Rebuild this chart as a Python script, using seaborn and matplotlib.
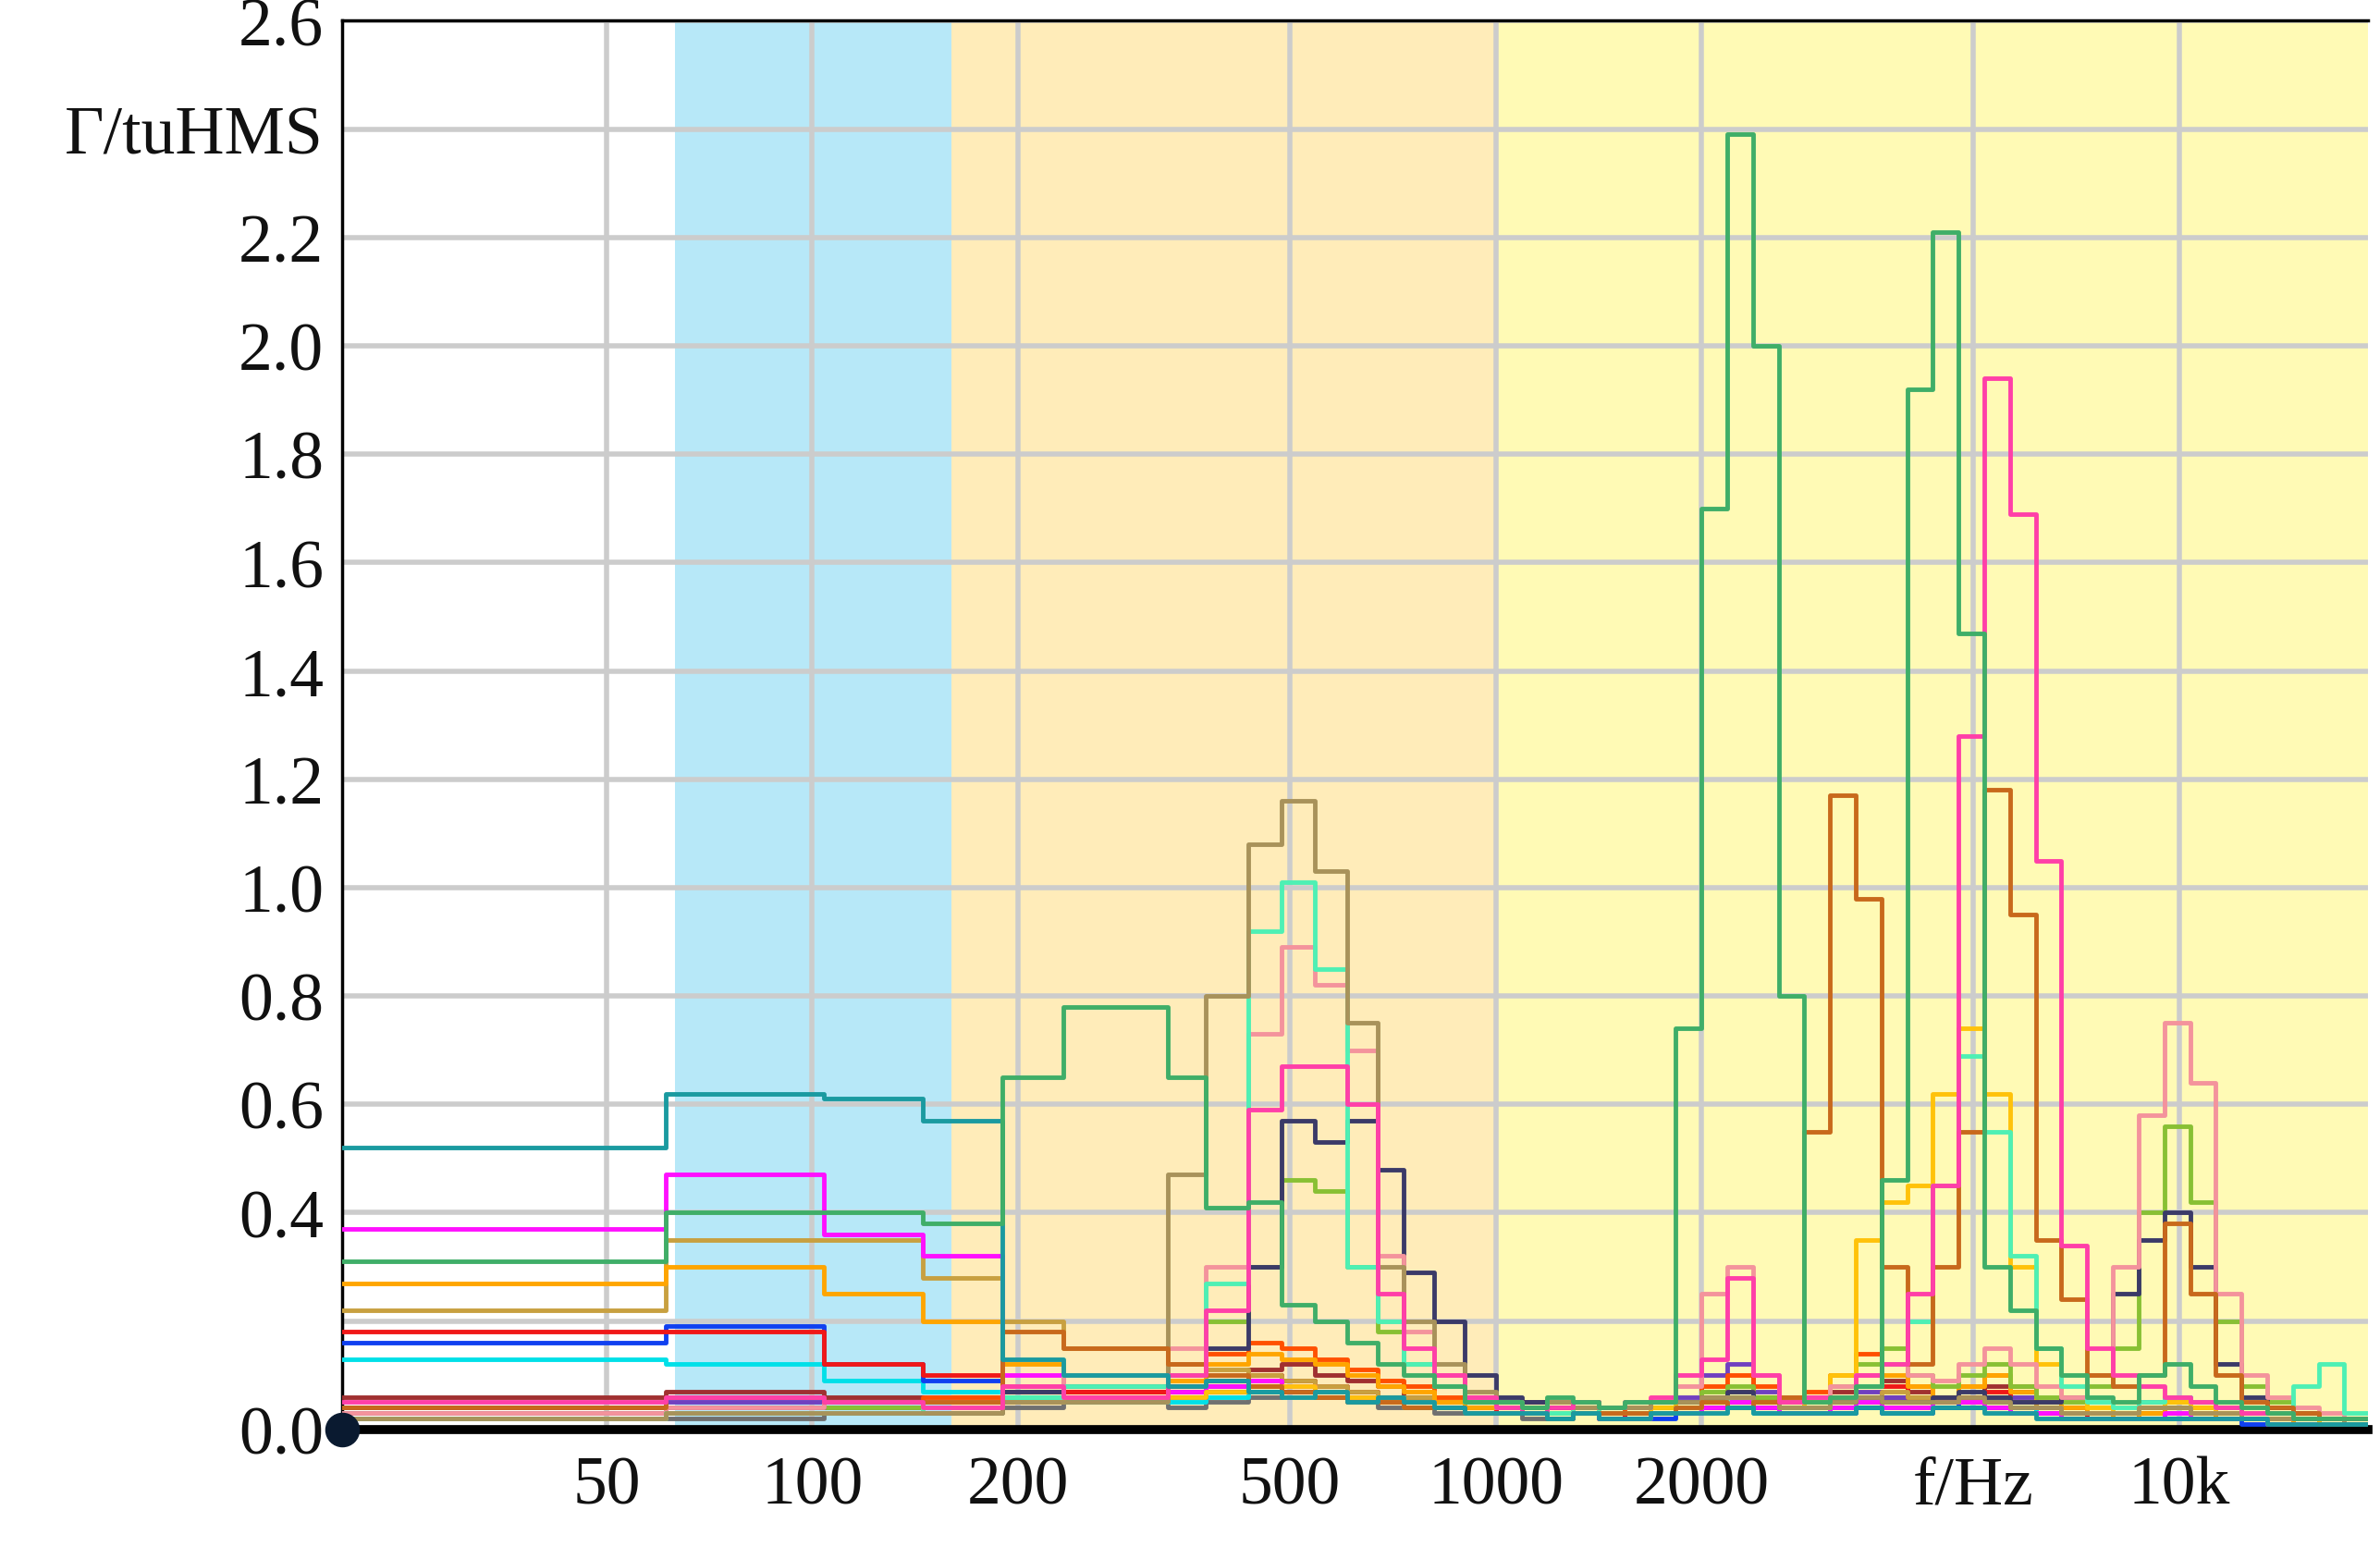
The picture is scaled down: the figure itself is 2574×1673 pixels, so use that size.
import numpy as np
import pandas as pd
import matplotlib
matplotlib.use("Agg")
import matplotlib.pyplot as plt
import seaborn as sns

# band edges in Hz
edges = [20, 61, 104, 145, 190, 233, 331, 376, 434, 486, 544, 606, 672, 733, 812, 900, 1000,
         1091, 1189, 1297, 1414, 1542, 1682, 1834, 2000, 2181, 2378, 2594, 2828, 3084, 3364,
         3668, 4000, 4362, 4757, 5187, 5657, 6169, 6727, 7336, 8000, 8724, 9514, 10375, 11314,
         12338, 13454, 14672, 16000, 17448, 19027]

s_black = [0.0]*50
s_gray = [0.02,0.02,0.03,0.03,0.04,0.05,0.04,0.05,0.06,0.07, 0.06,0.05,0.04,0.04,0.03,0.03,0.03,0.02,0.03,0.03,
          0.02,0.02,0.03,0.03,0.04,0.05,0.04,0.03,0.03,0.04, 0.05,0.06,0.05,0.04,0.04,0.05,0.04,0.03,0.03,0.02,
          0.02,0.03,0.04,0.03,0.02,0.02,0.02,0.01,0.01,0.01]
s_purple = [0.04,0.05,0.04,0.04,0.05,0.06,0.07,0.08,0.10,0.09, 0.08,0.07,0.06,0.05,0.04,0.04,0.03,0.03,0.04,0.05,
            0.04,0.04,0.05,0.06,0.10,0.12,0.07,0.05,0.05,0.06, 0.07,0.06,0.05,0.04,0.04,0.05,0.06,0.04,0.03,0.03,
            0.03,0.05,0.06,0.05,0.03,0.02,0.02,0.02,0.01,0.01]
s_darkred = [0.06,0.07,0.06,0.05,0.06,0.07,0.08,0.09,0.11,0.12, 0.10,0.09,0.08,0.06,0.05,0.04,0.04,0.05,0.04,0.04,
             0.03,0.03,0.04,0.05,0.06,0.07,0.06,0.04,0.05,0.07, 0.08,0.09,0.07,0.05,0.06,0.08,0.07,0.05,0.04,0.03,
             0.03,0.04,0.05,0.04,0.03,0.02,0.02,0.02,0.01,0.01]
s_orangered = [0.03,0.04,0.05,0.06,0.08,0.10,0.12,0.14,0.16,0.15, 0.13,0.11,0.09,0.08,0.06,0.05,0.04,0.04,0.05,0.04,
               0.03,0.04,0.04,0.05,0.08,0.10,0.08,0.06,0.07,0.10, 0.14,0.12,0.08,0.06,0.08,0.10,0.08,0.05,0.04,0.03,
               0.02,0.03,0.04,0.03,0.02,0.02,0.02,0.01,0.01,0.01]
s_cyan = [0.13,0.12,0.09,0.07,0.06,0.05,0.05,0.06,0.07,0.08, 0.07,0.06,0.05,0.04,0.04,0.03,0.03,0.03,0.03,0.03,
          0.03,0.02,0.03,0.03,0.04,0.04,0.03,0.03,0.03,0.04, 0.05,0.04,0.04,0.05,0.06,0.05,0.04,0.03,0.03,0.02,
          0.02,0.02,0.03,0.03,0.02,0.02,0.02,0.02,0.02,0.01]
s_blue = [0.16,0.19,0.12,0.09,0.07,0.06,0.06,0.07,0.08,0.07, 0.07,0.06,0.05,0.05,0.04,0.03,0.03,0.03,0.02,0.03,
          0.03,0.02,0.02,0.03,0.04,0.06,0.04,0.03,0.03,0.03, 0.04,0.03,0.03,0.04,0.05,0.04,0.03,0.03,0.02,0.02,
          0.02,0.02,0.02,0.02,0.02,0.01,0.01,0.01,0.01,0.01]
s_red = [0.18,0.18,0.12,0.10,0.08,0.07,0.08,0.09,0.10,0.09, 0.08,0.07,0.06,0.05,0.04,0.04,0.03,0.03,0.03,0.03,
         0.02,0.03,0.03,0.04,0.05,0.06,0.05,0.04,0.04,0.06, 0.10,0.08,0.06,0.05,0.06,0.07,0.05,0.04,0.03,0.02,
         0.02,0.03,0.04,0.03,0.02,0.02,0.01,0.01,0.01,0.01]
s_gold = [0.22,0.35,0.35,0.28,0.20,0.15,0.12,0.11,0.10,0.09, 0.08,0.07,0.06,0.06,0.05,0.04,0.04,0.04,0.03,0.04,
          0.03,0.03,0.04,0.05,0.06,0.07,0.05,0.04,0.04,0.05, 0.06,0.07,0.06,0.05,0.05,0.06,0.05,0.04,0.03,0.03,
          0.03,0.04,0.05,0.04,0.03,0.02,0.02,0.02,0.02,0.01]
s_orange = [0.27,0.30,0.25,0.20,0.12,0.10,0.09,0.12,0.14,0.13, 0.12,0.10,0.08,0.07,0.05,0.04,0.04,0.03,0.03,0.04,
            0.03,0.03,0.03,0.04,0.05,0.06,0.05,0.04,0.05,0.06, 0.08,0.10,0.08,0.06,0.08,0.10,0.07,0.05,0.04,0.03,
            0.02,0.03,0.04,0.03,0.02,0.02,0.02,0.01,0.01,0.01]
s_magenta = [0.37,0.47,0.36,0.32,0.10,0.08,0.07,0.08,0.09,0.08, 0.07,0.06,0.05,0.05,0.04,0.03,0.03,0.03,0.03,0.03,
             0.02,0.02,0.03,0.03,0.04,0.05,0.04,0.03,0.03,0.04, 0.05,0.04,0.04,0.05,0.05,0.04,0.03,0.03,0.02,0.02,
             0.02,0.02,0.03,0.02,0.02,0.02,0.01,0.01,0.01,0.01]
s_lime = [0.03,0.04,0.04,0.05,0.07,0.08,0.10,0.20,0.30,0.46, 0.44,0.30,0.18,0.12,0.08,0.05,0.04,0.04,0.03,0.04,
          0.03,0.03,0.04,0.05,0.07,0.08,0.06,0.05,0.06,0.08, 0.12,0.15,0.10,0.08,0.10,0.12,0.08,0.06,0.05,0.08,
          0.15,0.40,0.56,0.42,0.20,0.08,0.05,0.03,0.02,0.02]
s_yellow = [0.02,0.03,0.03,0.04,0.05,0.06,0.06,0.07,0.08,0.08, 0.07,0.06,0.05,0.05,0.04,0.03,0.03,0.03,0.03,0.03,
            0.03,0.03,0.04,0.05,0.06,0.07,0.05,0.04,0.05,0.10, 0.35,0.42,0.45,0.62,0.74,0.62,0.30,0.12,0.06,0.04,
            0.03,0.04,0.05,0.04,0.03,0.02,0.02,0.02,0.01,0.01]
s_navy = [0.03,0.04,0.05,0.05,0.07,0.08,0.10,0.15,0.30,0.57, 0.53,0.57,0.48,0.29,0.20,0.10,0.06,0.05,0.04,0.05,
          0.04,0.04,0.05,0.05,0.06,0.07,0.05,0.04,0.04,0.05, 0.06,0.05,0.05,0.06,0.07,0.06,0.05,0.05,0.06,0.10,
          0.25,0.35,0.40,0.30,0.12,0.06,0.04,0.03,0.02,0.02]
s_lightpink = [0.03,0.04,0.05,0.05,0.08,0.10,0.15,0.30,0.73,0.89, 0.82,0.70,0.32,0.18,0.10,0.06,0.05,0.04,0.05,0.05,
               0.04,0.04,0.05,0.08,0.25,0.30,0.10,0.06,0.06,0.08, 0.10,0.12,0.10,0.09,0.12,0.15,0.12,0.08,0.06,0.10,
               0.30,0.58,0.75,0.64,0.25,0.10,0.06,0.04,0.03,0.02]
s_aqua = [0.02,0.03,0.03,0.04,0.06,0.08,0.10,0.27,0.92,1.01, 0.85,0.30,0.20,0.12,0.08,0.05,0.04,0.04,0.03,0.04,
          0.03,0.03,0.03,0.04,0.05,0.06,0.05,0.04,0.04,0.06, 0.08,0.12,0.20,0.45,0.69,0.55,0.32,0.15,0.08,0.05,
          0.04,0.05,0.06,0.05,0.04,0.03,0.03,0.08,0.12,0.03]
s_tan = [0.02,0.03,0.03,0.03,0.05,0.05,0.47,0.80,1.08,1.16, 1.03,0.75,0.30,0.20,0.12,0.07,0.05,0.04,0.05,0.04,
         0.04,0.04,0.05,0.05,0.06,0.06,0.05,0.04,0.04,0.05, 0.06,0.05,0.05,0.05,0.06,0.05,0.04,0.04,0.03,0.03,
         0.03,0.04,0.04,0.03,0.03,0.02,0.02,0.02,0.02,0.01]
s_brown = [0.04,0.06,0.05,0.05,0.18,0.15,0.12,0.10,0.08,0.07, 0.06,0.05,0.05,0.04,0.04,0.03,0.03,0.03,0.02,0.03,
           0.03,0.03,0.03,0.04,0.05,0.04,0.05,0.06,0.55,1.17, 0.98,0.30,0.12,0.30,0.55,1.18,0.95,0.35,0.24,0.10,
           0.08,0.10,0.38,0.25,0.10,0.05,0.04,0.03,0.02,0.02]
s_hotpink = [0.05,0.06,0.05,0.04,0.08,0.06,0.10,0.22,0.59,0.67, 0.67,0.60,0.25,0.15,0.10,0.06,0.04,0.03,0.04,0.05,
             0.04,0.05,0.06,0.10,0.13,0.28,0.10,0.05,0.06,0.06, 0.10,0.12,0.25,0.45,1.28,1.94,1.69,1.05,0.34,0.15,
             0.10,0.08,0.06,0.05,0.04,0.03,0.03,0.02,0.02,0.02]
s_teal = [0.52,0.62,0.61,0.57,0.13,0.10,0.08,0.09,0.07,0.06, 0.07,0.05,0.06,0.05,0.04,0.03,0.03,0.03,0.02,0.03,
          0.02,0.02,0.03,0.03,0.03,0.04,0.03,0.03,0.03,0.03, 0.04,0.03,0.03,0.04,0.04,0.03,0.03,0.02,0.02,0.02,
          0.02,0.02,0.02,0.02,0.02,0.02,0.01,0.01,0.01,0.01]
s_green = [0.31,0.40,0.40,0.38,0.65,0.78,0.65,0.41,0.42,0.23, 0.20,0.16,0.12,0.10,0.08,0.05,0.05,0.04,0.06,0.05,
           0.04,0.05,0.05,0.74,1.70,2.39,2.00,0.80,0.05,0.06, 0.08,0.46,1.92,2.21,1.47,0.30,0.22,0.15,0.10,0.06,
           0.05,0.10,0.12,0.08,0.05,0.04,0.03,0.02,0.02,0.02]

series = {
    "gray": (s_gray, "#707070"), "purple": (s_purple, "#7040c0"), "darkred": (s_darkred, "#a03030"),
    "orangered": (s_orangered, "#ff5000"), "cyan": (s_cyan, "#00e0e8"), "blue": (s_blue, "#1040f0"),
    "red": (s_red, "#f01818"), "gold": (s_gold, "#c8a040"), "orange": (s_orange, "#ffa500"),
    "magenta": (s_magenta, "#ff10ff"), "lime": (s_lime, "#88c034"), "yellow": (s_yellow, "#ffc20a"),
    "navy": (s_navy, "#3b3a68"), "lightpink": (s_lightpink, "#f4939c"), "aqua": (s_aqua, "#4ef0b4"),
    "tan": (s_tan, "#a8925a"), "brown": (s_brown, "#c8691c"), "hotpink": (s_hotpink, "#ff3fa8"),
    "teal": (s_teal, "#1a9aa0"), "green": (s_green, "#3fae68"), "black": (s_black, "#000000"),
}

rows = []
for name, (vals, col) in series.items():
    v = list(vals) + [vals[-1]]
    for f, y in zip(edges, v):
        rows.append((name, f, y))
df = pd.DataFrame(rows, columns=["s", "f", "v"])
palette = {k: c for k, (v, c) in series.items()}

sns.set_theme(style="white")
plt.rcParams['font.family'] = ['Liberation Serif', 'DejaVu Serif']

fig = plt.figure(figsize=(25.74, 16.74), dpi=100)
ax = fig.add_axes([0.1436, 0.076, 0.8514, 0.910])
ax.set_xscale("log")
ax.set_xlim(20.5, 18900)
ax.set_ylim(0, 2.6)

ax.grid(True, which="major", color="#cccccc", linewidth=4, zorder=0)
ax.set_axisbelow(True)
ax.axvspan(63, 160, color="#b3e7f8", alpha=0.95, lw=0, zorder=0.5)
ax.axvspan(160, 1000, color="#ffe9ad", alpha=0.85, lw=0, zorder=0.5)
ax.axvspan(1000, 19027, color="#fffaa8", alpha=0.85, lw=0, zorder=0.5)

sns.lineplot(data=df, x="f", y="v", hue="s", palette=palette, drawstyle="steps-post",
             estimator=None, legend=False, linewidth=3.5, ax=ax, zorder=3)

xt = [50, 100, 200, 500, 1000, 2000, 5000, 10000]
ax.set_xticks(xt)
ax.set_xticklabels(["50", "100", "200", "500", "1000", "2000", "f/Hz", "10k"])
ax.xaxis.set_minor_locator(matplotlib.ticker.NullLocator())
yt = [0.0, 0.2, 0.4, 0.6, 0.8, 1.0, 1.2, 1.4, 1.6, 1.8, 2.0, 2.2, 2.4, 2.6]
ax.set_yticks(yt)
ax.set_yticklabels(["0.0", "", "0.4", "0.6", "0.8", "1.0", "1.2", "1.4", "1.6", "1.8",
                    "2.0", "2.2", "Γ/tuHMS", "2.6"])
ax.tick_params(axis="both", length=0, labelsize=53, colors="#111111")
ax.tick_params(axis="x", pad=20)
ax.tick_params(axis="y", pad=14)
ax.set_xlabel("")
ax.set_ylabel("")

for sp in ["left", "top"]:
    ax.spines[sp].set_color("black")
    ax.spines[sp].set_linewidth(2.5)
ax.spines["right"].set_visible(False)
ax.spines["bottom"].set_color("black")
ax.spines["bottom"].set_linewidth(7)
ax.plot([20.5], [0], "o", color="#0a1a30", markersize=26, clip_on=False, zorder=10)

fig.savefig("out.png", dpi=100)
